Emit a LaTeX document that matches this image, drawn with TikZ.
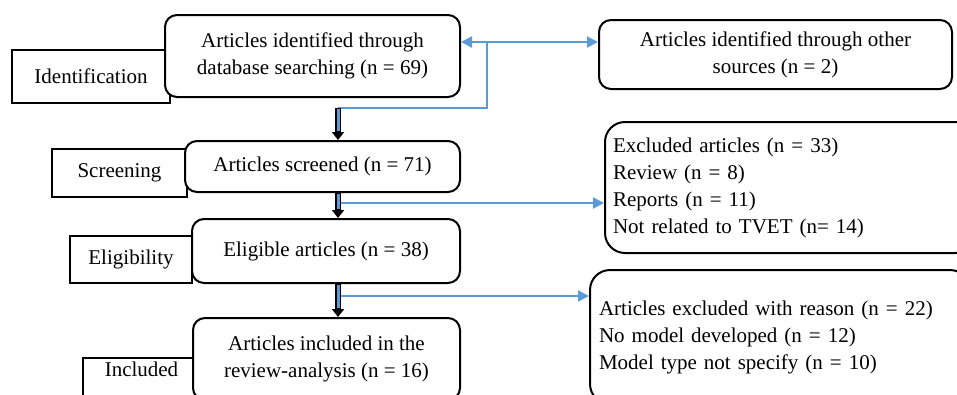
\documentclass[tikz,border=0pt]{standalone}
\usepackage{fontspec}
\setmainfont{Liberation Serif}
\usetikzlibrary{arrows.meta, positioning}
\definecolor{flowblue}{RGB}{91,155,213}
\newcommand{\boxfont}{\fontsize{21}{27}\selectfont}

\begin{document}
\begin{tikzpicture}[
      x=1pt, y=-1pt,
      stage/.style={draw, line width=1.6pt, fill=white, font=\boxfont,
                    inner sep=4pt},
      box/.style={draw, rounded corners=12pt, line width=2pt, fill=white,
                  align=center, font=\boxfont},
      sidebox/.style={box, rounded corners=20pt, align=left, inner xsep=8pt},
      blockarrow/.style={-{Triangle[length=8pt, width=12pt]}, line width=6pt,
                  postaction={draw=flowblue, line width=3pt, -,
                              shorten >=9pt, shorten <=1pt}},
      bluearrow/.style={-{Triangle[length=11pt, width=11pt]}, line width=2pt,
                  color=flowblue}
    ]
    \useasboundingbox (0,0) rectangle (957,394);
    \clip (0,0) rectangle (957,394);
    % stage labels (behind the boxes)
    \node[stage, minimum width=158pt, minimum height=53pt] (idlab) at (91,76.5) {Identification};
    \node[stage, minimum width=135pt, minimum height=48pt] (sclab) at (119.5,173) {Screening};
    \node[stage, minimum width=122pt, minimum height=47pt] (ellab) at (131,259.5) {Eligibility};
    \node[stage, anchor=north, minimum width=117pt, text depth=40pt] (inlab) at (141.5,357) {Included};
    % main flow
    \node[box, minimum width=295pt, minimum height=82pt] (ident) at (312.5,56)
         {Articles identified through\\database searching (n = 69)};
    \node[box, minimum width=353pt, minimum height=69pt] (other) at (775.5,54.5)
         {Articles identified through other\\sources (n = 2)};
    \node[box, minimum width=275pt, minimum height=51pt] (screen) at (322.5,166.5)
         {Articles screened (n = 71)};
    \node[box, minimum width=268pt, minimum height=64pt] (elig) at (326,251)
         {Eligible articles (n = 38)};
    \node[box, minimum width=267pt, minimum height=82pt] (incl) at (326.5,359)
         {Articles included in the\\review-analysis (n = 16)};
    % excluded
    \node[sidebox, text width=354pt, minimum height=131pt] (excl) at (790,187.5)
         {Excluded articles (n = 33)\\Review (n = 8)\\Reports (n = 11)\\Not related to TVET (n= 14)};
    \node[sidebox, inner xsep=9pt, text width=362pt, minimum height=134pt] (reason) at (780,337)
         {Articles excluded with reason (n = 22)\\No model developed (n = 12)\\Model type not specify (n = 10)};

    \coordinate (split) at (487,42);
    \coordinate (merge) at (338,108);
    \coordinate (s1) at (338,203);
    \coordinate (s2) at (338,296);

    \draw[bluearrow, {Triangle[length=11pt, width=11pt]}-{Triangle[length=11pt, width=11pt]}]
         ([yshift=14pt]ident.east) -- ([yshift=14pt]ident.east -| other.west);
    \draw[flowblue, line width=1.2pt] (split) |- (merge);
    \draw[bluearrow] (s1) -- (s1 -| excl.west);
    \draw[bluearrow] (s2) -- (s2 -| reason.west);
    \draw[blockarrow] (merge) -- (merge |- screen.north);
    \draw[blockarrow] (screen.south -| merge) -- (elig.north -| merge);
    \draw[blockarrow] (elig.south -| merge) -- (incl.north -| merge);
  \end{tikzpicture}
\end{document}
